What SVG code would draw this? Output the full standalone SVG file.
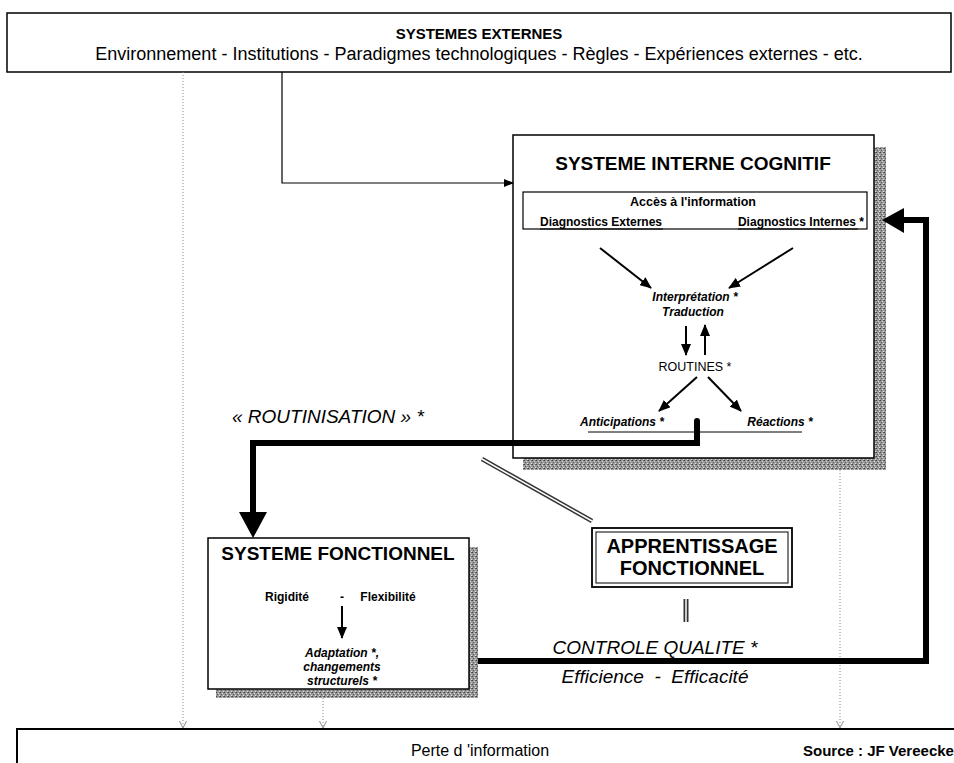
<svg xmlns="http://www.w3.org/2000/svg" width="954" height="763" viewBox="0 0 954 763">
  <style>
    text { font-family: "Liberation Sans", Arial, sans-serif; fill: #000; }
    .title { font-weight: bold; text-anchor: middle; }
    .c { text-anchor: middle; }
    .b { font-weight: bold; }
    .bi { font-weight: bold; font-style: italic; }
    .i { font-style: italic; }
    .box { fill: #fff; stroke: #000; stroke-width: 1.5; }
    .thin { fill: none; stroke: #000; stroke-width: 1.2; }
    .mid { fill: none; stroke: #000; stroke-width: 2; }
    .thick { fill: none; stroke: #000; stroke-width: 6; }
    .dot { fill: none; stroke: #8c8c8c; stroke-width: 1; stroke-dasharray: 1 2; }
    .shadow { fill: url(#speckle); }
    .ul { stroke: #000; stroke-width: 1; }
  </style>
  <defs>
    <pattern id="speckle" width="4" height="4" patternUnits="userSpaceOnUse">
      <rect width="4" height="4" fill="#9a9a9a"/>
      <rect x="0" y="0" width="1" height="1" fill="#444"/>
      <rect x="2" y="1" width="1" height="1" fill="#d8d8d8"/>
      <rect x="1" y="2" width="1" height="1" fill="#5a5a5a"/>
      <rect x="3" y="3" width="1" height="1" fill="#e0e0e0"/>
      <rect x="3" y="0" width="1" height="1" fill="#666"/>
    </pattern>
    <marker id="ah" markerWidth="12" markerHeight="10" refX="11" refY="5" orient="auto" markerUnits="userSpaceOnUse">
      <path d="M0,0 L12,5 L0,10 Z" fill="#000"/>
    </marker>
    <marker id="ahs" markerWidth="10" markerHeight="10" refX="9" refY="5" orient="auto" markerUnits="userSpaceOnUse">
      <path d="M0,1 L10,5 L0,9 Z" fill="#000"/>
    </marker>
    <marker id="ahg" markerWidth="8" markerHeight="8" refX="7" refY="4" orient="auto" markerUnits="userSpaceOnUse">
      <path d="M0,0.5 L7,4 L0,7.5" fill="none" stroke="#8c8c8c" stroke-width="1"/>
    </marker>
  </defs>

  <rect width="954" height="763" fill="#fff"/>

  <!-- external systems -->
  <g id="systemes-externes">
    <rect class="box" x="7" y="13" width="944" height="59"/>
    <text class="title" x="479" y="39" font-size="15">SYSTEMES EXTERNES</text>
    <text class="c" x="479" y="60" font-size="18">Environnement - Institutions - Paradigmes technologiques - Règles - Expériences externes - etc.</text>
  </g>

  <!-- internal cognitive system -->
  <g id="systeme-interne-cognitif">
    <rect class="shadow" x="523" y="147" width="363" height="323"/>
    <rect class="box" x="513" y="135" width="361" height="323"/>
    <text class="title" x="693" y="170" font-size="19">SYSTEME INTERNE COGNITIF</text>
    <rect fill="none" stroke="#000" stroke-width="1.2" x="523" y="192" width="344" height="37"/>
    <text class="title" x="693" y="206" font-size="12.5">Accès à l'information</text>
    <text class="b" x="540" y="226" font-size="12">Diagnostics Externes</text>
    <line class="ul" x1="540" y1="229" x2="663" y2="229"/>
    <text class="b" x="864" y="226" font-size="12" text-anchor="end">Diagnostics Internes *</text>
    <line class="ul" x1="738" y1="229" x2="858" y2="229"/>
    <path class="mid" d="M600,248 L651,288" marker-end="url(#ah)"/>
    <path class="mid" d="M793,248 L729,288" marker-end="url(#ah)"/>
    <text class="bi c" x="695" y="301" font-size="12">Interprétation *</text>
    <text class="bi c" x="693" y="316" font-size="12">Traduction</text>
    <path class="mid" d="M686,326 V355" marker-end="url(#ah)"/>
    <path class="mid" d="M705,355 V325" marker-end="url(#ah)"/>
    <text class="c" x="695" y="371" font-size="12.5">ROUTINES *</text>
    <path class="mid" d="M697,377 L659,411" marker-end="url(#ah)"/>
    <path class="mid" d="M708,377 L741,411" marker-end="url(#ah)"/>
    <text class="bi c" x="622" y="426" font-size="12">Anticipations *</text>
    <text class="bi c" x="780" y="426" font-size="12">Réactions *</text>
    <line class="ul" x1="588" y1="432" x2="802" y2="432"/>
  </g>

  <!-- routinisation label -->
  <g id="routinisation">
    <text class="i" x="232" y="423" font-size="19">« ROUTINISATION » *</text>
  </g>

  <!-- functional system -->
  <g id="systeme-fonctionnel">
    <rect class="shadow" x="216" y="547" width="262" height="151"/>
    <rect class="box" x="208" y="538" width="261" height="151"/>
    <text class="title" x="338" y="560" font-size="19">SYSTEME FONCTIONNEL</text>
    <text class="b c" x="287" y="601" font-size="12">Rigidité</text>
    <text class="b c" x="342" y="601" font-size="12">-</text>
    <text class="b c" x="388" y="601" font-size="12">Flexibilité</text>
    <path class="mid" d="M342,606 V638" marker-end="url(#ah)"/>
    <text class="bi c" x="342" y="657" font-size="12">Adaptation *,</text>
    <text class="bi c" x="342" y="671" font-size="12">changements</text>
    <text class="bi c" x="342" y="685" font-size="12">structurels *</text>
  </g>

  <!-- functional learning -->
  <g id="apprentissage-fonctionnel">
    <rect fill="#fff" stroke="#000" stroke-width="1.8" x="592" y="528" width="200" height="59"/>
    <rect fill="none" stroke="#000" stroke-width="1" x="596" y="532" width="192" height="51"/>
    <text class="title" x="692" y="553" font-size="20">APPRENTISSAGE</text>
    <text class="title" x="692" y="575" font-size="20">FONCTIONNEL</text>
  </g>

  <!-- quality control label -->
  <g id="controle-qualite">
    <text class="i c" x="655" y="654" font-size="19">CONTROLE QUALITE *</text>
    <text class="i c" x="655" y="683" font-size="19" xml:space="preserve">Efficience  -  Efficacité</text>
  </g>

  <!-- information loss -->
  <g id="perte-information">
    <path d="M17,763 V729 H954" fill="none" stroke="#000" stroke-width="2"/>
    <text class="c" x="480" y="756" font-size="16">Perte d 'information</text>
    <text class="b" x="803" y="756" font-size="15">Source : JF Vereecke</text>
  </g>

  <!-- connectors -->
  <g id="connectors">
    <!-- information links to the loss box -->
    <path class="dot" d="M183,72 V728" marker-end="url(#ahg)"/>
    <path class="dot" d="M323,698 V728" marker-end="url(#ahg)"/>
    <path class="dot" d="M840,470 V728" marker-end="url(#ahg)"/>
    <!-- external systems to cognitive system -->
    <path class="thin" d="M282,72 V183 H513" marker-end="url(#ahs)"/>
    <!-- routinisation -->
    <path class="thick" d="M697,421 V443 H253 V514" stroke-linecap="round" stroke-linejoin="miter"/>
    <polygon points="239,512 267,512 253,538" fill="#000"/>
    <!-- quality control feedback -->
    <path class="thick" d="M478,661 H926 V220 H903" stroke-linejoin="miter"/>
    <polygon points="904,208 904,233 882,220" fill="#000"/>
    <!-- learning links (double lines) -->
    <line x1="482" y1="459" x2="592" y2="521" stroke="#333" stroke-width="4.5"/>
    <line x1="482" y1="459" x2="592" y2="521" stroke="#fff" stroke-width="1.5"/>
    <line x1="686" y1="599" x2="686" y2="622" stroke="#333" stroke-width="5"/>
    <line x1="686" y1="599" x2="686" y2="622" stroke="#fff" stroke-width="1.5"/>
  </g>
</svg>
